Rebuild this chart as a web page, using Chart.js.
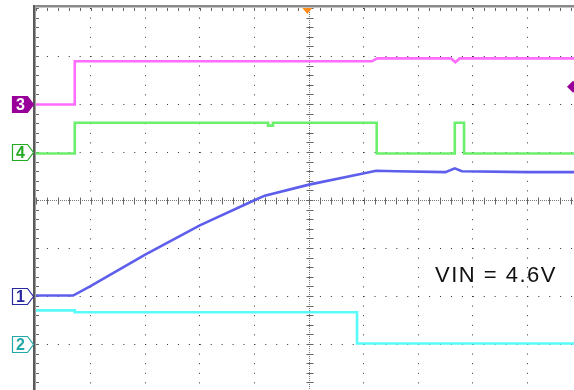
<!DOCTYPE html>
<html>
<head>
<meta charset="utf-8">
<script src="https://cdn.jsdelivr.net/npm/chart.js@4/dist/chart.umd.min.js"></script>
<style>
  html, body { margin: 0; padding: 0; background: #fff; overflow: hidden; }
  #wrap { position: absolute; left: 0; top: 0; width: 600px; height: 410px; }
</style>
</head>
<body>
<div id="wrap"><canvas id="scope" width="600" height="410"></canvas></div>
<script>
// Screen geometry in divisions: 10 horizontal, 8 vertical (centre = 0 V div)
const xDivs = [0, 10];
const yDivs = [-4, 4];

// Channel 1 (blue) - output ramp
const ch1Time = [0, 0.68, 0.99, 2.0, 3.0, 3.99, 4.19, 5.0, 5.99, 6.23, 6.6, 7.5, 7.67, 7.8, 9.0, 10];
const ch1Volt = [-1.99, -1.99, -1.80, -1.14, -0.53, -0.01, 0.09, 0.32, 0.55, 0.61, 0.60, 0.58, 0.66, 0.60, 0.58, 0.58];

// Channel 2 (cyan)
const ch2Time = [0, 0.71, 0.71, 5.88, 5.88, 10];
const ch2Volt = [-2.30, -2.30, -2.34, -2.34, -2.99, -2.99];

// Channel 3 (magenta)
const ch3Time = [0, 0.71, 0.71, 6.15, 6.25, 7.60, 7.68, 7.76, 10];
const ch3Volt = [1.99, 1.99, 2.89, 2.89, 2.95, 2.95, 2.87, 2.95, 2.95];

// Channel 4 (green)
const ch4Time = [0, 0.71, 0.71, 4.25, 4.25, 4.34, 4.34, 6.24, 6.24, 7.67, 7.67, 7.84, 7.84, 10];
const ch4Volt = [0.97, 0.97, 1.61, 1.61, 1.55, 1.55, 1.61, 1.61, 0.97, 0.97, 1.61, 1.61, 0.97, 0.97];

// Channel ground markers (div) and labels
const markerLabels = ['3', '4', '1', '2'];
const markerLevels = [2, 1, -2, -3];
const triggerTime = 4.97;
const triggerLevel = 2.36;
const annotation = 'VIN = 4.6V';

const pts = (t, v) => t.map((x, i) => ({ x, y: v[i] }));

const traceStyle = (color) => ({
  borderColor: color, borderWidth: 2.6, pointRadius: 0, tension: 0, fill: false
});

const markerStyle = {
  '3': { fill: '#990099', stroke: '#990099', text: '#ffffff' },
  '4': { fill: '#ffffff', stroke: '#22aa22', text: '#22aa22' },
  '1': { fill: '#ffffff', stroke: '#2a2aa0', text: '#2a2aa0' },
  '2': { fill: '#ffffff', stroke: '#22a8a8', text: '#22a8a8' }
};

const scopeDecor = {
  id: 'scopeDecor',
  beforeDatasetsDraw(chart) {
    const { ctx, chartArea: a, scales: { x, y } } = chart;
    const stepX = (x.getPixelForValue(1) - x.getPixelForValue(0)) / 5;
    const stepY = (y.getPixelForValue(0) - y.getPixelForValue(1)) / 5;
    const cx = Math.round(x.getPixelForValue(5)) + 0.5;
    const cy = Math.round(y.getPixelForValue(0)) + 0.5;
    ctx.save();
    ctx.lineWidth = 1;
    // centre cross, finely dotted
    ctx.strokeStyle = '#777';
    ctx.setLineDash([1, 1]);
    ctx.beginPath();
    ctx.moveTo(cx, a.top); ctx.lineTo(cx, a.bottom);
    ctx.moveTo(a.left, cy); ctx.lineTo(a.right, cy);
    ctx.stroke();
    ctx.setLineDash([]);
    // minor ticks on the centre cross
    ctx.strokeStyle = '#666';
    ctx.beginPath();
    for (let py = a.top; py <= a.bottom + 0.1; py += stepY) {
      const yy = Math.round(py) + 0.5;
      ctx.moveTo(cx - 3, yy); ctx.lineTo(cx + 4, yy);
    }
    for (let px = a.left; px <= a.right + 0.1; px += stepX) {
      const xx = Math.round(px) + 0.5;
      ctx.moveTo(xx, cy - 3); ctx.lineTo(xx, cy + 4);
    }
    // minor ticks on the left and top edges
    for (let py = a.top; py <= a.bottom + 0.1; py += stepY) {
      const yy = Math.round(py) + 0.5;
      ctx.moveTo(a.left, yy); ctx.lineTo(a.left + 3, yy);
    }
    for (let px = a.left; px <= a.right + 0.1; px += stepX) {
      const xx = Math.round(px) + 0.5;
      ctx.moveTo(xx, a.top); ctx.lineTo(xx, a.top + 3);
    }
    ctx.stroke();
    ctx.restore();
  },
  afterDraw(chart) {
    const { ctx, chartArea: a, scales: { x, y } } = chart;
    ctx.save();
    // frame edges
    ctx.fillStyle = '#8a8a8a';
    ctx.fillRect(a.left - 3, a.top - 3, chart.width, 2.5);
    ctx.fillStyle = '#5a5a5a';
    ctx.fillRect(a.left - 3, a.top - 3, 2, chart.height);
    ctx.fillStyle = '#a0a0a0';
    ctx.fillRect(a.left - 1, a.top - 3, 1, chart.height);

    // channel ground markers
    markerLabels.forEach((lab, i) => {
      const s = markerStyle[lab];
      const my = Math.round(y.getPixelForValue(markerLevels[i])) + 0.5;
      const l = 12.5, r = 27.5, tip = 33.5, h = 8;
      ctx.beginPath();
      ctx.moveTo(l, my - h); ctx.lineTo(r, my - h); ctx.lineTo(tip, my);
      ctx.lineTo(r, my + h); ctx.lineTo(l, my + h); ctx.closePath();
      ctx.fillStyle = s.fill; ctx.fill();
      ctx.lineWidth = 1.2; ctx.strokeStyle = s.stroke; ctx.stroke();
      ctx.fillStyle = s.text;
      ctx.font = 'bold 16px "Liberation Sans", Arial, sans-serif';
      ctx.textAlign = 'center'; ctx.textBaseline = 'middle';
      ctx.fillText(lab, 20.5, my + 1);
    });

    // trigger position marker (top)
    const tx = x.getPixelForValue(triggerTime);
    ctx.fillStyle = '#ff8a1a';
    ctx.beginPath();
    ctx.moveTo(tx - 5, a.top); ctx.lineTo(tx + 5, a.top); ctx.lineTo(tx, a.top + 6);
    ctx.closePath(); ctx.fill();

    // trigger level marker (right)
    const ty = y.getPixelForValue(triggerLevel);
    ctx.fillStyle = '#990099';
    ctx.beginPath();
    ctx.moveTo(567, ty); ctx.lineTo(573, ty - 6); ctx.lineTo(579, ty); ctx.lineTo(573, ty + 6);
    ctx.closePath(); ctx.fill();

    // annotation
    ctx.fillStyle = '#111';
    ctx.font = '22px "Liberation Sans", Arial, sans-serif';
    ctx.letterSpacing = '1.5px';
    ctx.textAlign = 'left'; ctx.textBaseline = 'alphabetic';
    ctx.fillText(annotation, 435, 282);
    ctx.restore();
  }
};

new Chart(document.getElementById('scope'), {
  type: 'line',
  data: {
    datasets: [
      { label: 'CH3', data: pts(ch3Time, ch3Volt), ...traceStyle('rgba(255,100,255,0.95)') },
      { label: 'CH4', data: pts(ch4Time, ch4Volt), ...traceStyle('rgba(100,238,100,0.95)') },
      { label: 'CH2', data: pts(ch2Time, ch2Volt), ...traceStyle('rgba(80,250,250,0.95)') },
      { label: 'CH1', data: pts(ch1Time, ch1Volt), ...traceStyle('rgba(85,85,235,0.95)') }
    ]
  },
  options: {
    responsive: false,
    animation: false,
    events: [],
    layout: { padding: { left: 36, top: 8, right: 18, bottom: 18 } },
    plugins: { legend: { display: false }, tooltip: { enabled: false } },
    scales: {
      x: {
        type: 'linear', min: xDivs[0], max: xDivs[1],
        ticks: { display: false, stepSize: 1 },
        grid: {
          drawTicks: false, lineWidth: 1,
          color: (c) => (c.tick && [0, 5, 10].includes(c.tick.value)) ? 'rgba(0,0,0,0)' : '#333'
        },
        border: { display: false, dash: [1, 8.6] }
      },
      y: {
        type: 'linear', min: yDivs[0], max: yDivs[1],
        ticks: { display: false, stepSize: 1 },
        grid: {
          drawTicks: false, lineWidth: 1,
          color: (c) => (c.tick && [-4, 0, 4].includes(c.tick.value)) ? 'rgba(0,0,0,0)' : '#333'
        },
        border: { display: false, dash: [1, 9.92] }
      }
    }
  },
  plugins: [scopeDecor]
});
</script>
</body>
</html>
